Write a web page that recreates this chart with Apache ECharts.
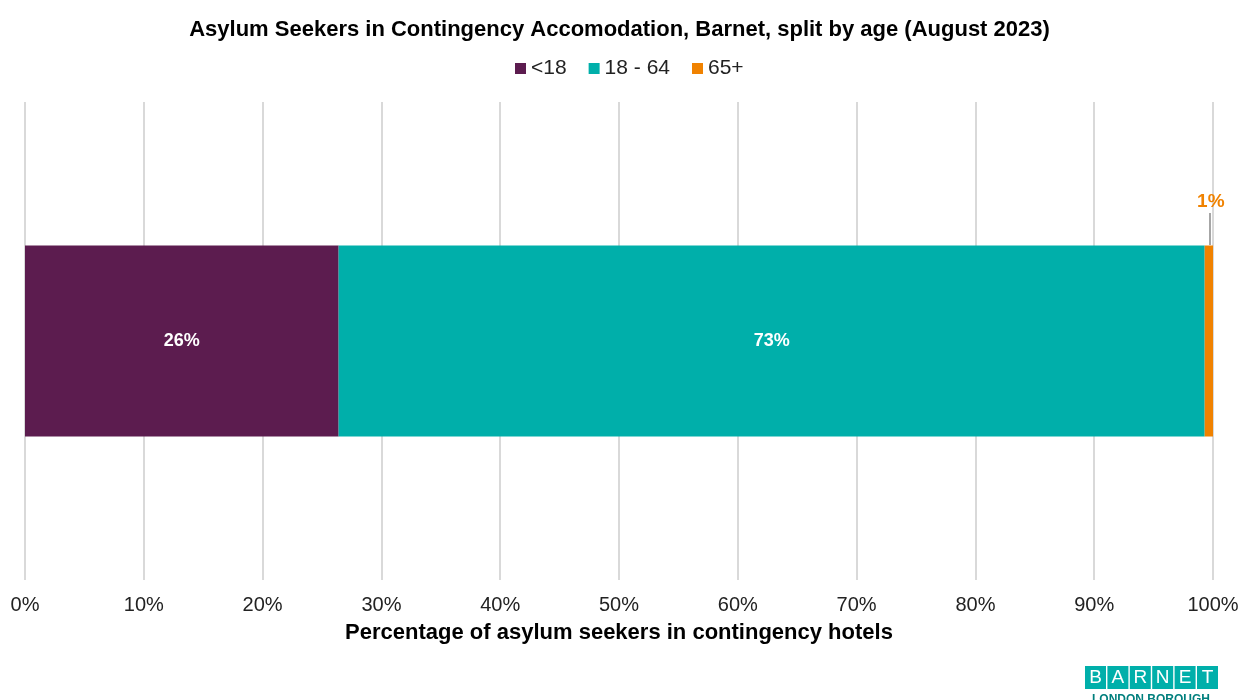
<!DOCTYPE html>
<html>
<head>
<meta charset="utf-8">
<script src="https://cdn.jsdelivr.net/npm/echarts@6/dist/echarts.min.js"></script>
<style>
  html, body { margin: 0; padding: 0; background: #fff; }
  #chart { width: 1239px; height: 700px; }
</style>
</head>
<body>
<div id="chart"></div>
<script>
// Share of asylum seekers in contingency hotels by age band (percent)
const categories = ['Barnet'];
const ageGroups = ['<18', '18 - 64', '65+'];
const under18 = [26.4];
const age18to64 = [72.9];
const age65plus = [0.7];
const xTicks = [0, 10, 20, 30, 40, 50, 60, 70, 80, 90, 100];

const colors = ['#5c1c4f', '#00afaa', '#f08200'];
const FONT = '"Liberation Sans", Arial, sans-serif';

const chart = echarts.init(document.getElementById('chart'), null, { renderer: 'canvas' });

const pct = v => Math.round(v) + '%';

// Borough logo, bottom right
const logoLetters = 'BARNET'.split('');
const logoGraphics = [];
logoLetters.forEach((ch, i) => {
  const x = 1085 + i * 22.4;
  logoGraphics.push({
    type: 'rect', left: x, top: 666,
    shape: { width: 21, height: 23 },
    style: { fill: '#00afaa' }
  });
  logoGraphics.push({
    type: 'text', x: x + 10.5, y: 678,
    style: { text: ch, fill: '#fff', font: '200 19px ' + FONT,
      textAlign: 'center', textVerticalAlign: 'middle' }
  });
});
logoGraphics.push({
  type: 'text', x: 1151, y: 694,
  style: { text: 'LONDON BOROUGH', fill: '#007f7d', font: 'bold 12px ' + FONT,
    textAlign: 'center', textVerticalAlign: 'top' }
});

chart.setOption({
  animation: false,
  color: colors,
  title: {
    text: 'Asylum Seekers in Contingency Accomodation, Barnet, split by age (August 2023)',
    left: 'center', top: 14,
    textStyle: { fontFamily: FONT, fontSize: 22, fontWeight: 'bold', color: '#000' }
  },
  legend: {
    data: ageGroups,
    top: 53, left: 510,
    icon: 'rect', itemWidth: 11, itemHeight: 11, itemGap: 22,
    textStyle: { fontFamily: FONT, fontSize: 21, color: '#222' }
  },
  grid: { left: 25, right: 26, top: 102, bottom: 120, containLabel: false, outerBoundsMode: 'none' },
  xAxis: {
    type: 'value', min: 0, max: 100, interval: 10,
    name: 'Percentage of asylum seekers in contingency hotels',
    nameLocation: 'middle', nameGap: 42,
    nameTextStyle: { fontFamily: FONT, fontSize: 22, fontWeight: 'bold', color: '#000' },
    axisLine: { show: false }, axisTick: { show: false },
    axisLabel: {
      margin: 15, fontFamily: FONT, fontSize: 20, color: '#222',
      formatter: v => xTicks.includes(v) ? v + '%' : ''
    },
    splitLine: { lineStyle: { color: '#d9d9d9', width: 2 } }
  },
  yAxis: {
    type: 'category', data: categories,
    axisLine: { show: false }, axisTick: { show: false }, axisLabel: { show: false }
  },
  series: [
    {
      name: ageGroups[0], type: 'bar', stack: 'total', data: under18,
      barWidth: 191,
      label: { show: true, position: 'inside', formatter: p => pct(p.value),
        fontFamily: FONT, fontSize: 18, fontWeight: 'bold', color: '#fff' }
    },
    {
      name: ageGroups[1], type: 'bar', stack: 'total', data: age18to64,
      label: { show: true, position: 'inside', formatter: p => pct(p.value),
        fontFamily: FONT, fontSize: 18, fontWeight: 'bold', color: '#fff' }
    },
    {
      name: ageGroups[2], type: 'bar', stack: 'total', data: age65plus,
      label: { show: true, position: 'top', distance: 34, offset: [2, 0],
        formatter: p => pct(p.value),
        fontFamily: FONT, fontSize: 19, fontWeight: 'bold', color: '#f08200' },
      markLine: {
        silent: true, symbol: 'none', animation: false,
        lineStyle: { color: '#a6a6a6', width: 2, type: 'solid' },
        label: { show: false },
        data: [[
          { coord: [99.75, 0], y: 213 },
          { coord: [99.75, 0], y: 245 }
        ]]
      }
    }
  ],
  graphic: logoGraphics
});
</script>
</body>
</html>
